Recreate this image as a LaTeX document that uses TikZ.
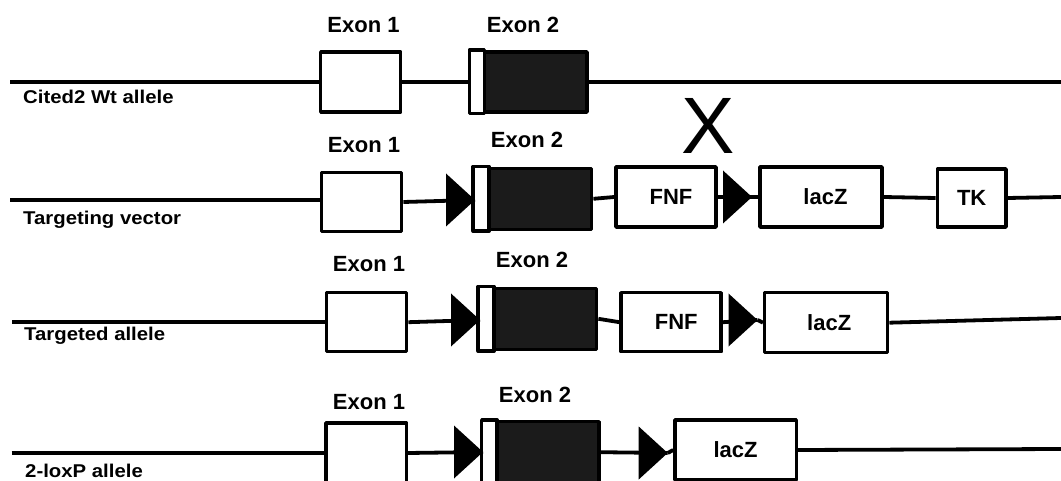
\documentclass[tikz,border=0pt]{standalone}
\usepackage{fontspec}
\setmainfont{Liberation Sans}
\definecolor{exdark}{HTML}{1B1B1B}
\tikzset{
  conn/.style={line width=3.8pt},
  box/.style={draw, line width=3.5pt, fill=white, inner sep=0pt, line join=round},
  exonbox/.style={box, fill=exdark},
  stripe/.style={draw, line width=3.5pt, fill=white, line join=round},
  lbl/.style={font=\bfseries\fontsize{22}{22}\selectfont, anchor=base, inner sep=0pt},
  boxtxt/.style={font=\bfseries\fontsize{22}{22}\selectfont},
  side/.style={font=\bfseries\fontsize{18.5}{18.5}\selectfont, anchor=base west, inner sep=0pt},
  loxp/.pic={\fill (0,0) -- (-29,-26.5) -- (-29,26.5) -- cycle;}
}
\newcommand{\sx}[1]{\scalebox{1.1}[1]{#1}}
\begin{document}
\begin{tikzpicture}[x=1pt,y=-1pt]
\useasboundingbox (0,0) rectangle (1061,481);

% ---------------- Row 1: Wt allele ----------------
\coordinate (L1) at (10,82);
\coordinate (R1) at (1061,82);
\node[box, minimum width=80pt, minimum height=60pt] (e1a) at (360.7,82) {};
\node[exonbox, minimum width=116pt, minimum height=60pt] (e2a) at (529,82) {};
\draw[stripe] (e2a.north west) rectangle ([xshift=15pt]e2a.south west);
\draw[conn] (L1) -- (e1a.west);
\draw[conn] (e1a.east) -- (e2a.west);
\draw[conn] (e2a.east) -- (R1);
\node[lbl] (t1a) at (363.5,33) {Exon 1};
\node[lbl] (t2a) at (523,33) {Exon 2};
\node[side] (sa) at (23,103.3) {\sx{Cited2 Wt allele}};

% ---------------- Row 2: Targeting vector ----------------
\coordinate (L2) at (10,200);
\coordinate (R2) at (1061,197);
\node[box, minimum width=80pt, minimum height=59.4pt] (e1b) at (361.7,202) {};
\coordinate (lb1) at (475,200);
\node[exonbox, minimum width=116.7pt, minimum height=61pt] (e2b) at (533.3,198.8) {};
\draw[stripe] (e2b.north west) rectangle ([xshift=16pt]e2b.south west);
\node[box, boxtxt, minimum width=100pt, minimum height=60pt] (fnfb) at (666,197) {\hspace*{10pt}FNF};
\coordinate (lb2) at (752,197);
\node[box, boxtxt, minimum width=122pt, minimum height=60pt] (lacb) at (821,197) {\hspace*{9pt}lacZ};
\node[box, boxtxt, minimum width=68.5pt, minimum height=58pt] (tkb) at (971.7,198) {TK};
\draw[conn] (L2) -- (L2 -| e1b.west);
\draw[conn] (e1b.east) -- (lb1);
\pic at (lb1) {loxp};
\draw[conn] (e2b.east) -- (fnfb.west);
\draw[conn] (fnfb.east) -- (lb2);
\pic at (lb2) {loxp};
\draw[conn] (lb2) -- (lacb.west);
\draw[conn] (lacb.east) -- (tkb.west);
\draw[conn] (tkb.east) -- (R2);
\node[lbl] (t1b) at (364,152.3) {Exon 1};
\node[lbl] (t2b) at (527,147.3) {Exon 2};
\node[font=\fontsize{80}{80}\selectfont, inner sep=0pt] (xx) at (708,126) {X};
\node[side] (sb) at (23,225) {\sx{Targeting vector}};

% ---------------- Row 3: Targeted allele ----------------
\coordinate (L3) at (12,322);
\coordinate (R3) at (1061,318);
\node[box, minimum width=80pt, minimum height=59pt] (e1c) at (366.7,322.2) {};
\coordinate (lc1) at (480,320);
\node[exonbox, minimum width=116.7pt, minimum height=61pt] (e2c) at (538.3,318.8) {};
\draw[stripe] (e2c.north west) rectangle ([xshift=16pt]e2c.south west);
\node[box, boxtxt, minimum width=100pt, minimum height=59pt] (fnfc) at (671.2,322.2) {\hspace*{10pt}FNF};
\coordinate (lc2) at (757.5,320);
\node[box, boxtxt, minimum width=123pt, minimum height=60pt] (lacc) at (826.2,322.7) {\hspace*{6pt}lacZ};
\draw[conn] (L3) -- (L3 -| e1c.west);
\draw[conn] (e1c.east) -- (lc1);
\pic at (lc1) {loxp};
\draw[conn] (e2c.east) -- (fnfc.west);
\draw[conn] (fnfc.east) -- (lc2);
\pic at (lc2) {loxp};
\draw[conn] (lc2) -- (lacc.west);
\draw[conn] (lacc.east) -- (R3);
\node[lbl] (t1c) at (369,271.7) {Exon 1};
\node[lbl] (t2c) at (532,267.3) {Exon 2};
\node[side] (sc) at (24,341) {\sx{Targeted allele}};

% ---------------- Row 4: 2-loxP allele ----------------
\coordinate (L4) at (11.5,453);
\coordinate (R4) at (1061,449);
\node[box, minimum width=80.4pt, minimum height=60pt] (e1d) at (366.2,453) {};
\coordinate (ld1) at (483,452);
\node[exonbox, minimum width=115.5pt, minimum height=61pt] (e2d) at (541.2,452.2) {};
\draw[stripe] (e2d.north west) rectangle ([xshift=15.5pt]e2d.south west);
\coordinate (ld2) at (667.7,453);
\node[box, boxtxt, minimum width=121.3pt, minimum height=60pt] (lacd) at (735.6,450) {lacZ};
\draw[conn] (L4) -- (L4 -| e1d.west);
\draw[conn] (e1d.east) -- (ld1);
\pic at (ld1) {loxp};
\draw[conn] (e2d.east) -- (ld2);
\pic at (ld2) {loxp};
\draw[conn] (ld2) -- (lacd.west);
\draw[conn] (lacd.east) -- (R4);
\node[lbl] (t1d) at (369,409) {Exon 1};
\node[lbl] (t2d) at (535,402) {Exon 2};
\node[side] (sd) at (25,477.5) {\sx{2-loxP allele}};
\end{tikzpicture}
\end{document}
